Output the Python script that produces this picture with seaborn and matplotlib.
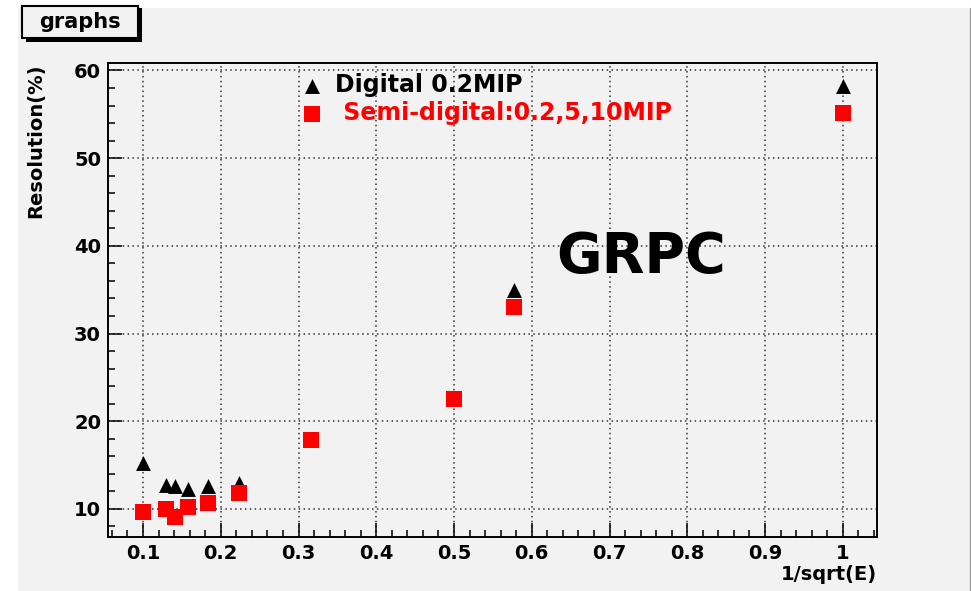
import matplotlib
matplotlib.use("Agg")
import matplotlib.pyplot as plt
import pandas as pd
import seaborn as sns
from matplotlib.patches import Rectangle
from matplotlib.lines import Line2D
from matplotlib.ticker import MultipleLocator, FixedLocator

# 1/sqrt(E) positions and energy resolution (%) for each readout mode
inv_sqrt_e_digital = [0.100, 0.129, 0.141, 0.158, 0.183, 0.224, 0.577, 1.000]
res_digital = [15.2, 12.7, 12.6, 12.3, 12.6, 13.0, 35.0, 58.2]

inv_sqrt_e_semi = [0.100, 0.129, 0.141, 0.158, 0.183, 0.224, 0.316, 0.500, 0.577, 1.000]
res_semi = [9.6, 10.0, 9.1, 10.2, 10.7, 11.85, 17.9, 22.5, 33.0, 55.2]

x_ticks = [0.1, 0.2, 0.3, 0.4, 0.5, 0.6, 0.7, 0.8, 0.9, 1.0]
x_tick_labels = ["0.1", "0.2", "0.3", "0.4", "0.5", "0.6", "0.7", "0.8", "0.9", "1"]
y_ticks = [10, 20, 30, 40, 50, 60]

label_digital = "Digital 0.2MIP"
label_semi = " Semi-digital:0.2,5,10MIP"

df_digital = pd.DataFrame({"x": inv_sqrt_e_digital, "y": res_digital})
df_semi = pd.DataFrame({"x": inv_sqrt_e_semi, "y": res_semi})

sns.set_style("ticks")
plt.rcParams["font.family"] = ["DejaVu Sans"]
plt.rcParams["font.weight"] = "bold"
plt.rcParams["axes.labelcolor"] = "black"
plt.rcParams["text.color"] = "black"

W, H = 971, 591
fig = plt.figure(figsize=(W / 100, H / 100), dpi=100, facecolor="white")

# grey canvas with a thin darker right border
fig.add_artist(Rectangle((18 / W, 0), 1 - 18 / W, 1 - 8 / H, transform=fig.transFigure,
                         facecolor="#f2f2f2", edgecolor="none", zorder=-10))
fig.add_artist(Line2D([969.5 / W, 969.5 / W], [0, 1 - 8 / H], transform=fig.transFigure,
                      color="#9a9a9a", linewidth=0.9, zorder=-9))

ax = fig.add_axes([108 / W, 1 - 537 / H, (877 - 108) / W, (537 - 63) / H])
ax.set_facecolor("#f2f2f2")

sns.scatterplot(data=df_digital, x="x", y="y", marker="^", color="black", s=115,
                linewidth=0, label=label_digital, ax=ax, zorder=3)
sns.scatterplot(data=df_semi, x="x", y="y", marker="s", color="#ff0000", s=120,
                linewidth=0, label=label_semi, ax=ax, zorder=3)

ax.set_xlim(0.055, 1.044)
ax.set_ylim(6.8, 60.85)

ax.xaxis.set_major_locator(FixedLocator(x_ticks))
ax.set_xticklabels(x_tick_labels)
ax.xaxis.set_minor_locator(MultipleLocator(0.02))
ax.yaxis.set_major_locator(FixedLocator(y_ticks))
ax.yaxis.set_minor_locator(MultipleLocator(2))

ax.tick_params(which="major", direction="in", length=10, width=1.1, colors="black",
               labelsize=14, pad=5)
ax.tick_params(which="minor", direction="in", length=5, width=1.1, colors="black")
for lab in ax.get_xticklabels() + ax.get_yticklabels():
    lab.set_fontweight("bold")

ax.grid(True, which="major", linestyle=(0, (1, 2.2)), color="#333333", linewidth=1.1)
ax.set_axisbelow(True)
for sp in ax.spines.values():
    sp.set_visible(True)
    sp.set_color("black")
    sp.set_linewidth(1.4)

ax.set_ylabel("Resolution(%)", loc="top", fontsize=14, fontweight="bold", color="black")
ax.yaxis.set_label_coords(-0.082, 1.0)
ax.set_xlabel("1/sqrt(E)", loc="right", fontsize=14, fontweight="bold", color="black")
ax.xaxis.set_label_coords(1.0, -0.059)

handles, labels = ax.get_legend_handles_labels()
leg = ax.legend(handles, labels, loc="upper left", bbox_to_anchor=(300 / W, 1 - 73 / H),
                bbox_transform=fig.transFigure, frameon=False, borderpad=0,
                borderaxespad=0, handlelength=1.0, handletextpad=0.49,
                labelspacing=0.17, prop={"size": 17, "weight": "bold"})
leg.get_texts()[0].set_color("black")
leg.get_texts()[1].set_color("#ff0000")

fig.text(641 / W, 1 - 257 / H, "GRPC", ha="center", va="center", fontsize=40,
         fontweight="bold", color="black")

# title box with drop shadow
fig.add_artist(Rectangle((26 / W, 1 - 42 / H), 116 / W, 34 / H, transform=fig.transFigure,
                         facecolor="black", edgecolor="none", zorder=5))
fig.add_artist(Rectangle((22 / W, 1 - 38 / H), 116 / W, 32 / H, transform=fig.transFigure,
                         facecolor="#f2f2f2", edgecolor="black", linewidth=1.5, zorder=6))
fig.text(80 / W, 1 - 22 / H, "graphs", ha="center", va="center", fontsize=15,
         fontweight="bold", color="black", zorder=7)

fig.savefig("out.png", dpi=100, facecolor=fig.get_facecolor())
